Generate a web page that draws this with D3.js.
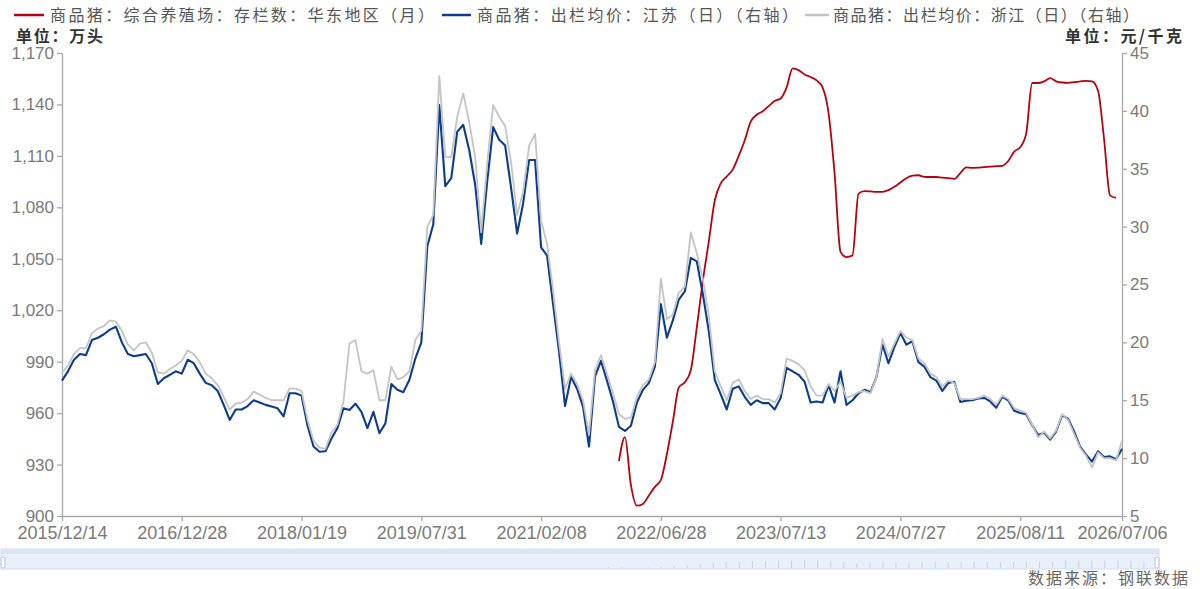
<!DOCTYPE html>
<html><head><meta charset="utf-8">
<script src="https://cdn.jsdelivr.net/npm/d3@7/dist/d3.min.js"></script>
<style>
body{margin:0;background:#fff}
text{font-family:"Liberation Sans",Arial,sans-serif}
.cjk{font-family:"Noto Sans CJK SC","Noto Sans",sans-serif}
</style>
</head><body><svg id="c" width="1200" height="589"></svg>
<script>
// ---------- data ----------
const xTickLabels = ["2015/12/14","2016/12/28","2018/01/19","2019/07/31","2021/02/08","2022/06/28","2023/07/13","2024/07/27","2025/08/11","2026/07/06"];
const xTickIndex = [0,20,40,60,80,100,120,140,160,177];
const categoryCount = 178; // sampled observation slots along the category axis
const seriesNames = ["商品猪：综合养殖场：存栏数：华东地区（月）","商品猪：出栏均价：江苏（日）（右轴）","商品猪：出栏均价：浙江（日）（右轴）"];
const leftTicks = [900,930,960,990,1020,1050,1080,1110,1140,1170];
const rightTicks = [5,10,15,20,25,30,35,40,45];

// 出栏均价：江苏 (元/千克)
const jiangsu = [16.7,17.5,18.5,19.0,18.9,20.2,20.4,20.7,21.1,21.35,
20.0,19.0,18.8,18.9,19.0,18.2,16.4,16.9,17.2,17.5,
17.3,18.5,18.2,17.3,16.5,16.3,15.8,14.6,13.3,14.2,
14.2,14.5,15.0,14.8,14.6,14.45,14.3,13.6,15.6,15.6,
15.4,12.8,11.0,10.55,10.6,11.7,12.6,14.3,14.15,14.7,
14.0,12.6,14.0,12.15,13.0,16.4,15.9,15.7,16.75,18.6,
20.0,28.3,30.2,40.5,33.5,34.2,38.2,38.8,36.6,33.6,
28.5,33.9,38.6,37.5,37.0,33.3,29.4,32.0,35.75,35.75,
28.2,27.5,23.3,19.2,14.5,17.0,16.0,14.45,11.0,17.05,
18.4,16.7,14.9,12.7,12.35,12.8,14.8,15.9,16.5,17.9,
23.3,20.4,21.9,23.7,24.4,27.3,27.0,24.2,21.0,16.75,
15.5,14.2,16.0,16.2,15.3,14.6,15.0,14.75,14.75,14.2,
15.2,17.8,17.5,17.2,16.6,14.8,14.9,14.8,16.3,14.8,
17.5,14.6,15.0,15.6,15.9,15.7,17.0,19.8,18.2,19.6,
20.8,19.8,20.1,18.3,17.9,17.0,16.7,15.8,16.5,16.6,
14.85,14.95,15.0,15.15,15.2,14.9,14.35,15.3,15.0,14.1,
13.9,13.8,12.85,12.0,12.2,11.6,12.3,13.7,13.4,12.3,
11.0,10.3,9.7,10.6,10.1,10.15,9.9,10.8];

// 出栏均价：浙江 (元/千克)
const zhejiang = [17.4,18.0,19.0,19.5,19.5,20.8,21.2,21.4,21.9,21.8,
21.0,19.8,19.3,19.9,20.0,19.1,17.4,17.3,17.7,18.0,
18.4,19.3,19.0,18.3,17.3,16.9,16.3,15.3,14.2,14.7,
14.8,15.1,15.75,15.5,15.2,15.0,15.0,15.0,16.0,16.0,
15.8,13.3,11.5,10.9,10.8,12.2,12.9,14.9,19.9,20.2,
17.5,17.3,17.6,15.0,15.0,17.9,16.8,17.0,17.5,20.2,
21.0,30.0,31.0,43.0,36.0,36.0,39.5,41.5,39.0,36.0,
29.5,35.5,40.5,39.5,38.7,35.5,31.0,33.0,37.0,38.0,
30.5,28.5,24.5,20.0,16.0,17.3,16.4,15.0,12.0,17.6,
18.9,17.3,15.6,13.8,13.4,13.5,15.3,16.3,16.8,18.3,
25.5,22.0,22.4,24.3,24.8,29.5,27.7,25.5,22.3,17.5,
16.2,15.0,16.5,16.8,15.8,15.1,15.4,15.1,15.1,14.8,
15.6,18.6,18.4,18.1,17.6,16.2,15.4,15.4,16.4,15.8,
16.6,15.2,15.4,15.7,15.8,15.6,17.0,20.3,18.8,19.9,
21.0,20.4,20.2,18.6,18.2,17.3,17.0,16.2,16.7,16.5,
15.1,15.1,15.1,15.2,15.4,15.1,14.6,15.4,15.1,14.3,
14.1,13.9,12.9,11.8,12.3,11.7,12.4,13.8,13.3,12.1,
10.9,10.2,9.2,10.5,10.0,10.0,9.8,11.5];

// 存栏数：华东地区 (万头), first category slot of this series
const stockStart = 93;
const stock = [932,946,918,906,907,912,917,921,
936,955,975,978,985,1010,1037,1060,1084,1094,
1098,1102,1110,1119,1130,1134,1136,1139,1142,1143.5,
1150,1161,1160,1157.5,1156,1154,1150,1135,1100,1054,
1051,1052,1088,1089.5,1089.3,1089,1089,1090,1092,1094.5,
1097,1098.5,1098.7,1097.8,1097.7,1097.7,1097.3,1097,1096.6,1100,
1103.3,1103,1103.2,1103.5,1103.7,1104,1104.2,1107,1112.5,1115,
1123,1152.5,1152.5,1153.5,1155.3,1153.5,1152.8,1152.6,1153,1153.4,
1153.8,1153.5,1148,1120,1087,1085.5];

const colors = ["#b5000f","#0c3c8c","#c4c4c4"];

// ---------- chart ----------
const svg = d3.select("#c");
const L = 62, R = 1122, T = 53, B = 516;
const x = d3.scaleLinear().domain([0, categoryCount - 1]).range([L, R]);
const yL = d3.scaleLinear().domain([900, 1170]).range([B, T]);
const yR = d3.scaleLinear().domain([5, 45]).range([B, T]);

const axisColor = "#a9a9a9", labelColor = "#7a7a7a";

function styleAxis(g, size) {
  g.select(".domain").attr("stroke", axisColor).attr("stroke-width", 1.3);
  g.selectAll(".tick line").attr("stroke", axisColor).attr("stroke-width", 1.3);
  g.selectAll(".tick text").attr("fill", labelColor).style("font-size", size + "px")
    .style("font-family", "'Liberation Sans',Arial,sans-serif");
}

svg.append("g").attr("transform", `translate(${L},0)`)
  .call(d3.axisLeft(yL).tickValues(leftTicks).tickFormat(d3.format(",")).tickSize(5).tickSizeOuter(0))
  .call(g => styleAxis(g, 17));
svg.append("g").attr("transform", `translate(${R},0)`)
  .call(d3.axisRight(yR).tickValues(rightTicks).tickSize(5).tickSizeOuter(0))
  .call(g => styleAxis(g, 17));
svg.append("g").attr("transform", `translate(0,${B})`)
  .call(d3.axisBottom(x).tickValues(xTickIndex).tickFormat((d, i) => xTickLabels[i]).tickSize(5).tickPadding(5).tickSizeOuter(0))
  .call(g => styleAxis(g, 18));

// lines
const stockData = stock.map((v, i) => [stockStart + i, v]);
const lineStock = d3.line().x(d => x(d[0])).y(d => yL(d[1])).curve(d3.curveMonotoneX);
const lineR = d3.line().x((d, i) => x(i)).y(d => yR(d));

svg.append("path").datum(stockData).attr("d", lineStock)
  .attr("fill", "none").attr("stroke", colors[0]).attr("stroke-width", 1.8);
svg.append("path").datum(jiangsu).attr("d", lineR)
  .attr("fill", "none").attr("stroke", colors[1]).attr("stroke-width", 2.1).attr("stroke-linejoin", "round");
svg.append("path").datum(zhejiang).attr("d", lineR)
  .attr("fill", "none").attr("stroke", colors[2]).attr("stroke-width", 1.8).attr("stroke-linejoin", "round");

// legend
const legendLine = [[14, 44], [442, 471], [805, 829]];
const legendText = [[50, 384], [477, 321], [833, 306]];
seriesNames.forEach((name, i) => {
  svg.append("line").attr("x1", legendLine[i][0]).attr("x2", legendLine[i][1])
    .attr("y1", 15).attr("y2", 15).attr("stroke", colors[i]).attr("stroke-width", 2.5);
  svg.append("text").attr("class", "cjk").attr("x", legendText[i][0]).attr("y", 21)
    .attr("textLength", legendText[i][1]).attr("lengthAdjust", "spacing")
    .attr("fill", "#555").style("font-size", "16px").text(name);
});

// unit labels
svg.append("text").attr("class", "cjk").attr("x", 16).attr("y", 42).attr("fill", "#333")
  .attr("textLength", 87).attr("lengthAdjust", "spacing")
  .style("font-size", "16px").style("font-weight", "bold").text("单位：万头");
svg.append("text").attr("class", "cjk").attr("x", 1065).attr("y", 42).attr("fill", "#333")
  .attr("textLength", 117).attr("lengthAdjust", "spacing")
  .style("font-size", "16px").style("font-weight", "bold").text("单位：元/千克");

// slider (data zoom bar) with data shadow of the first series
const sx = d3.scaleLinear().domain([0, categoryCount - 1]).range([2, 1157]);
const sy = d3.scaleLinear().domain([900, 1170]).range([568, 560]);
svg.append("rect").attr("x", 1).attr("y", 549).attr("width", 1158).attr("height", 20)
  .attr("fill", "#e9effb").attr("stroke", "#d3dcee");
svg.append("rect").attr("x", 1).attr("y", 549).attr("width", 1158).attr("height", 5)
  .attr("fill", "#dde5f3");
svg.append("g").selectAll("line").data(stockData.filter((d, i) => i % 2 === 0)).join("line")
  .attr("x1", d => sx(d[0])).attr("x2", d => sx(d[0]))
  .attr("y1", 568).attr("y2", d => sy(d[1]))
  .attr("stroke", "#c3d0ea").attr("stroke-width", 1);
svg.append("rect").attr("x", 1).attr("y", 557).attr("width", 4).attr("height", 11).attr("rx", 2)
  .attr("fill", "#fff").attr("stroke", "#b9c4d9");
svg.append("rect").attr("x", 1155).attr("y", 557).attr("width", 4).attr("height", 11).attr("rx", 2)
  .attr("fill", "#fff").attr("stroke", "#b9c4d9");

// source
svg.append("text").attr("class", "cjk").attr("x", 1190).attr("y", 584).attr("text-anchor", "end")
  .attr("fill", "#666").style("font-size", "16px").style("letter-spacing", "2px").text("数据来源：钢联数据");
</script>
</body></html>
